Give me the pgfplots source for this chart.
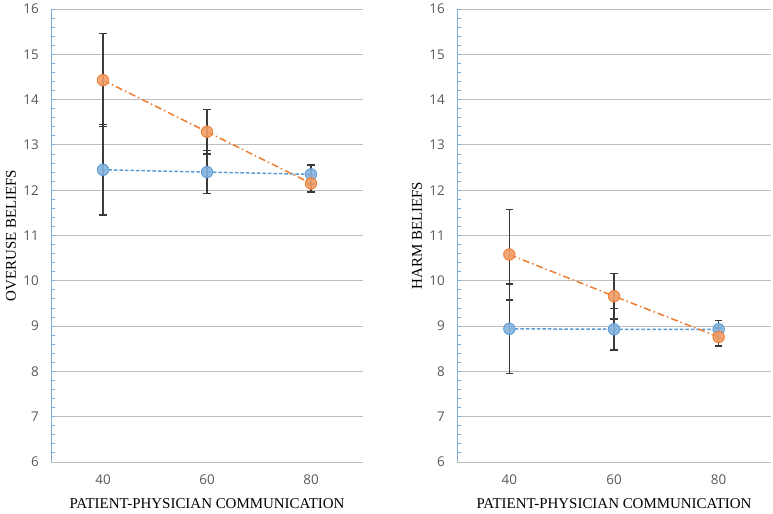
\documentclass[border=0pt]{standalone}
\usepackage{fontspec}
\setmainfont{Liberation Serif}
\newfontfamily\tickfont{Open Sans}
\usepackage{pgfplots}
\pgfplotsset{compat=1.18}
\definecolor{oC}{HTML}{ED7D31}
\definecolor{bC}{HTML}{5B9BD5}
\definecolor{axB}{HTML}{7FAEDC}
\definecolor{gridG}{HTML}{BEBEBE}
\definecolor{tickG}{HTML}{595959}
\definecolor{errG}{HTML}{3A3A3A}
\pgfplotsset{
 myax/.style={
  scale only axis, height=453bp, xmin=30, xmax=90, ymin=6, ymax=16,
  xtick={40,60,80}, ytick={6,7,...,16}, minor y tick num=4,
  axis x line*=bottom, axis y line*=left,
  x axis line style={draw=gridG, line width=0.9bp, -},
  y axis line style={draw=axB, line width=1bp, -},
  ymajorgrids, grid style={draw=gridG, line width=0.9bp},
  tick align=inside,
  xtick style={draw=none},
  ytick style={draw=axB, line width=0.9bp},
  major tick length=4bp, minor tick length=4bp,
  ticklabel style={font=\tickfont\fontsize{13.5}{15}\selectfont, text=tickG},
  /pgf/number format/assume math mode=true,
  yticklabel style={inner sep=0pt, xshift=-12bp},
  xticklabel style={inner sep=0pt, anchor=center, yshift=-18bp},
  label style={font=\fontsize{15}{17}\selectfont, text=black},
  xlabel style={at={([yshift=-42bp]axis description cs:0.5,0)}, anchor=center},
  ylabel style={at={([xshift=-40bp]axis description cs:0,0.5)}, anchor=center},
  clip=false,
  error bars/y dir=both, error bars/y explicit,
  error bars/error bar style={draw=errG, line width=1.4bp, solid},
  error bars/error mark options={rotate=90, mark size=3.8bp, draw=errG, line width=1.4bp, solid},
 },
 bser/.style={color=bC, line width=1.5bp, dash pattern=on 3.5bp off 2bp, mark=*, mark size=5.7bp,
   mark options={solid, draw=bC, fill=bC!75!white, line width=1bp, opacity=0.9}},
 oser/.style={color=oC, line width=1.5bp, dash pattern=on 7bp off 3bp on 1.5bp off 3bp, mark=*, mark size=5.7bp,
   mark options={solid, draw=oC, fill=oC!75!white, line width=1bp, opacity=0.9}},
}
\begin{document}
\begin{tikzpicture}
\path[use as bounding box] (0,0) rectangle (773bp,514bp);
\begin{axis}[myax, at={(51bp,52bp)}, anchor=south west, width=312bp,
  xlabel={PATIENT-PHYSICIAN COMMUNICATION}, ylabel={OVERUSE BELIEFS}]
\addplot[bser] coordinates {(40,12.45) +- (0,1.00) (60,12.40) +- (0,0.47) (80,12.35) +- (0,0.21)};
\addplot[oser] coordinates {(40,14.43) +- (0,1.03) (60,13.29) +- (0,0.49) (80,12.15) +- (0,0.19)};
\end{axis}
\begin{axis}[myax, at={(457bp,52bp)}, anchor=south west, width=314bp,
  xlabel={PATIENT-PHYSICIAN COMMUNICATION}, ylabel={HARM BELIEFS}]
\addplot[bser] coordinates {(40,8.94) +- (0,0.99) (60,8.93) +- (0,0.46) (80,8.93) +- (0,0.20)};
\addplot[oser] coordinates {(40,10.58) +- (0,1.00) (60,9.66) +- (0,0.50) (80,8.76) +- (0,0.20)};
\end{axis}
\end{tikzpicture}
\end{document}
